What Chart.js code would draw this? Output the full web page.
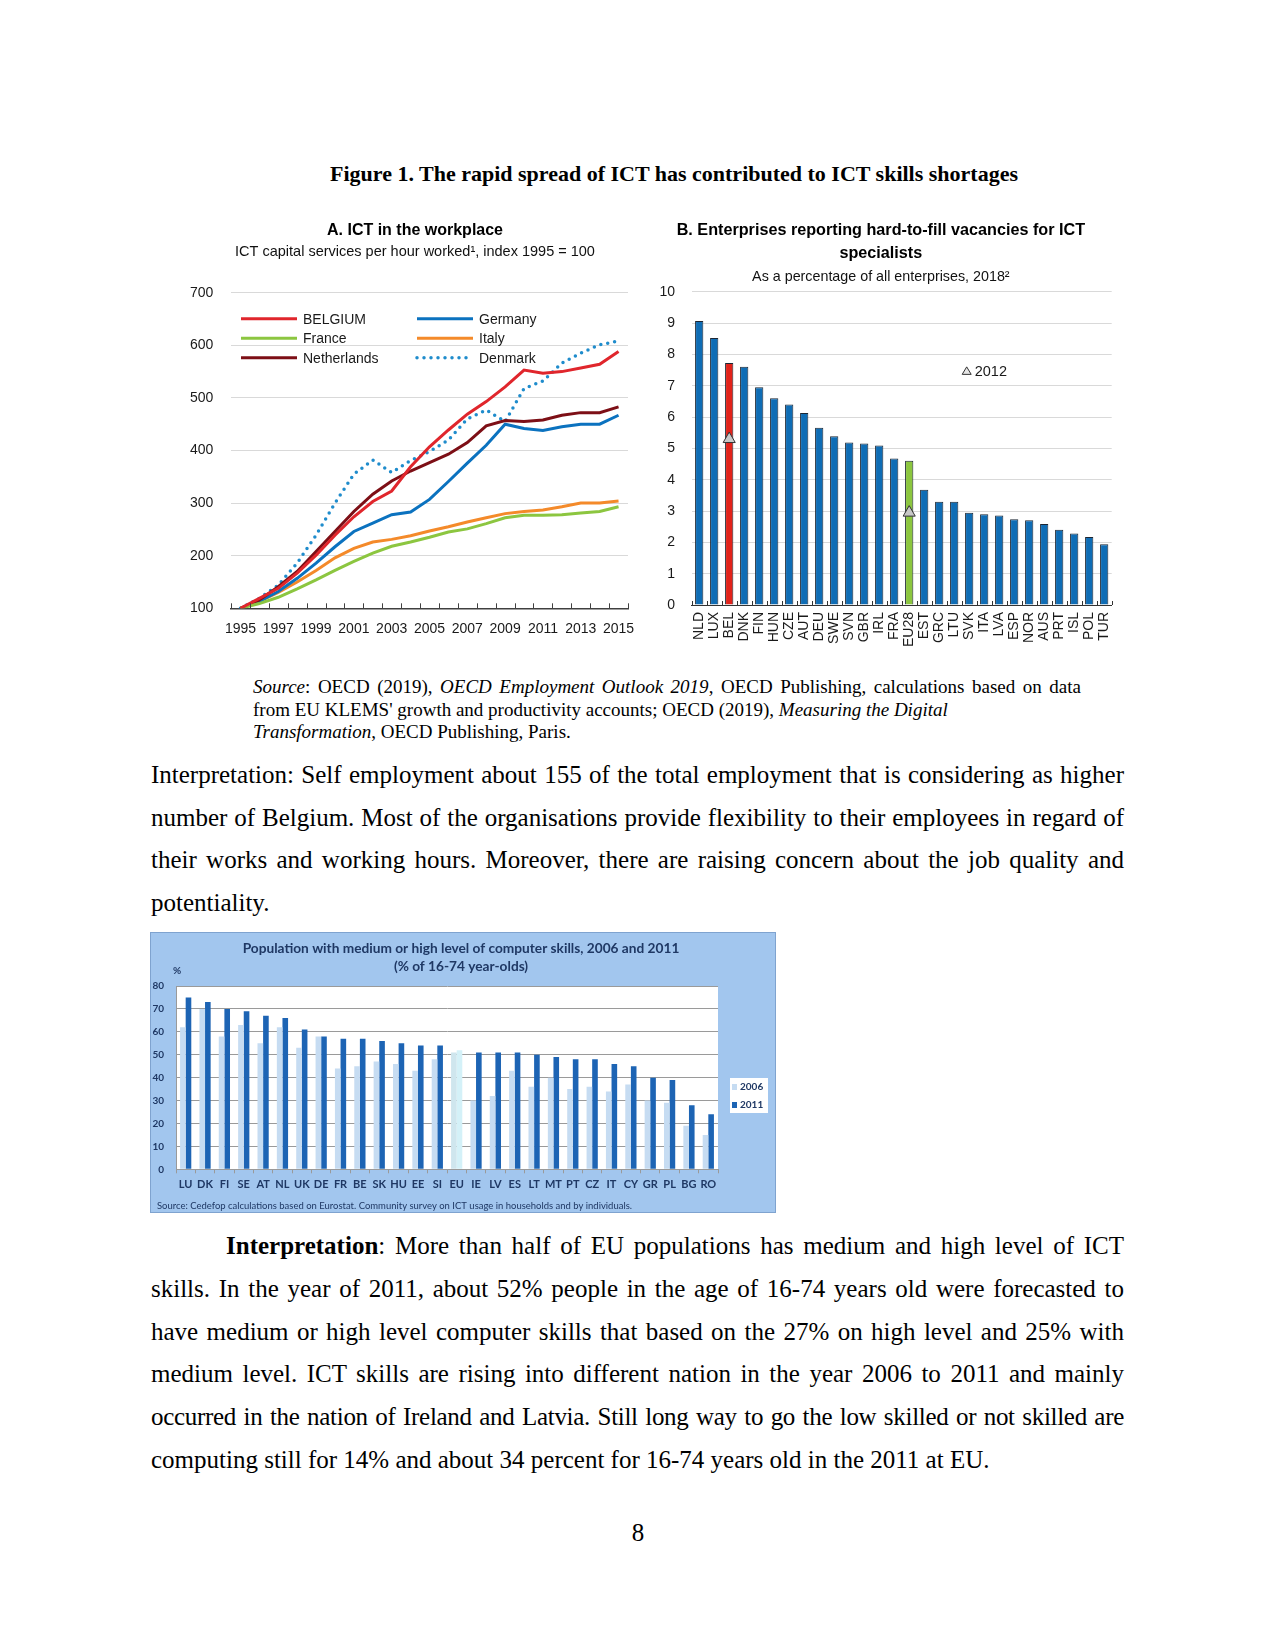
<!DOCTYPE html>
<html lang="en">
<head>
<meta charset="utf-8">
<title>The rapid spread of ICT has contributed to ICT skills shortages</title>
<script src="https://cdn.jsdelivr.net/npm/chart.js@4.4.1/dist/chart.umd.min.js"></script>
<style>
  body { margin: 0; background: #fff; }
  #page { position: relative; width: 1275px; height: 1651px; overflow: hidden;
          font-family: "Liberation Serif", "Times New Roman", serif; color: #000; }
  #page > * { position: absolute; }
  canvas { display: block; }
  .figtitle { left: 274px; width: 800px; top: 162px; font-size: 22px; font-weight: bold;
              line-height: 24px; text-align: center; }
  .source { left: 253px; top: 676px; font-size: 19px; line-height: 22.5px; }
  .source .j { width: 828px; text-align: justify; text-align-last: justify; }
  .para { left: 151px; width: 973px; font-size: 25px; line-height: 42.6px; }
  .para .j { text-align: justify; text-align-last: justify; }
  .para .ind { padding-left: 75px; }
  .para .tight { letter-spacing: -0.3px; }
  .pageno { left: 600px; width: 76px; top: 1512px; font-size: 25px; line-height: 42.6px; text-align: center; }
</style>
</head>
<body>
<div id="page">
  <div class="figtitle">Figure 1. The rapid spread of ICT has contributed to ICT skills shortages</div>

  <canvas id="chartA" width="470" height="430" style="left:180px; top:215px;"></canvas>
  <canvas id="chartB" width="480" height="440" style="left:650px; top:215px;"></canvas>

  <div class="source">
    <div class="j"><i>Source</i>: OECD (2019), <i>OECD Employment Outlook 2019</i>, OECD Publishing, calculations based on data</div>
    <div>from EU KLEMS' growth and productivity accounts; OECD (2019), <i>Measuring the Digital</i></div>
    <div><i>Transformation</i>, OECD Publishing, Paris.</div>
  </div>

  <div class="para" style="top:754px;">
    <div class="j">Interpretation: Self employment about 155 of the total employment that is considering as higher</div>
    <div class="j">number of Belgium. Most of the organisations provide flexibility to their employees in regard of</div>
    <div class="j">their works and working hours. Moreover, there are raising concern about the job quality and</div>
    <div>potentiality.</div>
  </div>

  <canvas id="chartC" width="626" height="281" style="left:150px; top:932px;"></canvas>

  <div class="para" style="top:1225px; line-height:42.75px;">
    <div class="j ind"><b>Interpretation</b>: More than half of EU populations has medium and high level of ICT</div>
    <div class="j">skills. In the year of 2011, about 52% people in the age of 16-74 years old were forecasted to</div>
    <div class="j">have medium or high level computer skills that based on the 27% on high level and 25% with</div>
    <div class="j">medium level. ICT skills are rising into different nation in the year 2006 to 2011 and mainly</div>
    <div class="j tight">occurred in the nation of Ireland and Latvia. Still long way to go the low skilled or not skilled are</div>
    <div>computing still for 14% and about 34 percent for 16-74 years old in the 2011 at EU.</div>
  </div>

  <div class="pageno">8</div>
</div>

<script>
// Panel A: ICT capital services per hour worked, index 1995 = 100
const years = ["1995", "1996", "1997", "1998", "1999", "2000", "2001", "2002", "2003", "2004",
  "2005", "2006", "2007", "2008", "2009", "2010", "2011", "2012", "2013", "2014", "2015"];
const belgium = [100, 119, 138, 167, 201, 239, 274, 303, 323, 369, 407, 439, 469, 493, 521, 553, 547, 550, 557, 564, 588];
const france = [100, 109, 121, 137, 154, 172, 189, 205, 218, 226, 235, 245, 251, 261, 272, 277, 277, 278, 281, 284, 293];
const netherlands = [100, 116, 141, 170, 208, 246, 284, 317, 342, 361, 377, 393, 415, 447, 457, 455, 458, 467, 472, 472, 483];
const germany = [100, 113, 132, 157, 186, 217, 246, 262, 278, 283, 307, 341, 376, 410, 450, 442, 438, 445, 450, 450, 467];
const italy = [100, 113, 130, 150, 172, 196, 214, 226, 231, 238, 247, 255, 264, 272, 280, 284, 287, 293, 300, 300, 304];
const denmark = [100, 119, 144, 186, 239, 300, 355, 382, 358, 381, 398, 420, 460, 477, 455, 518, 532, 566, 585, 601, 608];

// Panel B: hard-to-fill vacancies for ICT specialists, % of enterprises
const countriesB = ["NLD", "LUX", "BEL", "DNK", "FIN", "HUN", "CZE", "AUT", "DEU", "SWE", "SVN", "GBR", "IRL", "FRA",
  "EU28", "EST", "GRC", "LTU", "SVK", "ITA", "LVA", "ESP", "NOR", "AUS", "PRT", "ISL", "POL", "TUR"];
const vac2018 = [9.07, 8.53, 7.73, 7.61, 6.95, 6.6, 6.4, 6.13, 5.66, 5.39, 5.19, 5.16, 5.09, 4.68,
  4.61, 3.68, 3.3, 3.3, 2.95, 2.9, 2.86, 2.74, 2.71, 2.59, 2.4, 2.28, 2.17, 1.94];
const vac2012 = [null, null, 5.3, null, null, null, null, null, null, null, null, null, null, null,
  2.95, null, null, null, null, null, null, null, null, null, null, null, null, null];

// Panel C: population with medium or high computer skills
const countriesC = ["LU", "DK", "FI", "SE", "AT", "NL", "UK", "DE", "FR", "BE", "SK", "HU", "EE", "SI",
  "EU", "IE", "LV", "ES", "LT", "MT", "PT", "CZ", "IT", "CY", "GR", "PL", "BG", "RO"];
const skills2006 = [62, 70, 58, 63, 55, 62, 53, 58, 44, 45, 47, 46, 43, 48,
  51, 30, 32, 43, 36, 40, 35, 36, 34, 37, 30, 29, 19, 15];
const skills2011 = [75, 73, 70, 69, 67, 66, 61, 58, 57, 57, 56, 55, 54, 54,
  52, 51, 51, 51, 50, 49, 48, 48, 46, 45, 40, 39, 28, 24];

const SANS = "'Liberation Sans', Arial, sans-serif";
const LATO = "Lato, 'Liberation Sans', sans-serif";
const NAVY = "#1f3864";

// small tick marks pointing up from the category axis
const innerTicks = {
  id: "innerTicks",
  afterDatasetsDraw(chart, args, opts) {
    const x = chart.scales.x, ctx = chart.ctx;
    const n = x.ticks.length, step = (x.right - x.left) / n;
    ctx.save();
    ctx.strokeStyle = opts.color;
    ctx.lineWidth = 1;
    ctx.beginPath();
    for (let i = 0; i <= n; i++) {
      const px = Math.round(x.left + i * step) + 0.5;
      ctx.moveTo(px, x.top);
      ctx.lineTo(px, x.top - opts.len);
    }
    ctx.stroke();
    ctx.restore();
  }
};

// titles and two-column legend for panel A
const panelA = {
  id: "panelA",
  afterDraw(chart) {
    const { ctx, chartArea } = chart;
    ctx.save();
    ctx.textBaseline = "middle";
    ctx.textAlign = "center";
    ctx.fillStyle = "#000";
    ctx.font = "bold 16px " + SANS;
    ctx.fillText("A. ICT in the workplace", 235, 16);
    ctx.fillStyle = "#111";
    ctx.font = "14.5px " + SANS;
    ctx.fillText("ICT capital services per hour worked\u00b9, index 1995 = 100", 235, 37);

    ctx.textAlign = "left";
    ctx.font = "14px " + SANS;
    chart.data.datasets.forEach((ds, i) => {
      const x = chartArea.left + 10 + Math.floor(i / 3) * 176;
      const y = chartArea.top + 26 + (i % 3) * 19.5;
      ctx.strokeStyle = ds.borderColor;
      ctx.lineWidth = ds.borderWidth;
      ctx.lineCap = ds.borderCapStyle || "butt";
      ctx.setLineDash(ds.borderDash || []);
      ctx.beginPath();
      ctx.moveTo(x, y);
      ctx.lineTo(x + 56, y);
      ctx.stroke();
      ctx.setLineDash([]);
      ctx.fillStyle = "#1a1a1a";
      ctx.fillText(ds.label, x + 62, y + 1);
    });
    ctx.restore();
  }
};

new Chart(document.getElementById("chartA"), {
  type: "line",
  data: {
    labels: years,
    datasets: [
      { label: "BELGIUM", data: belgium, borderColor: "#e0262c", borderWidth: 3 },
      { label: "France", data: france, borderColor: "#8cc640", borderWidth: 3 },
      { label: "Netherlands", data: netherlands, borderColor: "#7d0f16", borderWidth: 3 },
      { label: "Germany", data: germany, borderColor: "#0b72bf", borderWidth: 3 },
      { label: "Italy", data: italy, borderColor: "#f48a2a", borderWidth: 3 },
      { label: "Denmark", data: denmark, borderColor: "#1f8ccc", borderWidth: 3.5,
        borderDash: [0, 7], borderCapStyle: "round" }
    ]
  },
  options: {
    responsive: false,
    animation: false,
    layout: { padding: { left: 0, right: 22, top: 77.7, bottom: 0 } },
    elements: { point: { radius: 0 }, line: { tension: 0 } },
    plugins: {
      legend: { display: false },
      tooltip: { enabled: false },
      title: { display: false },
      innerTicks: { color: "#404040", len: 5 }
    },
    scales: {
      x: {
        offset: true,
        grid: { display: false, drawTicks: false },
        border: { color: "#404040", width: 1.5 },
        ticks: {
          autoSkip: false, maxRotation: 0, padding: 12, color: "#1a1a1a",
          font: { family: SANS, size: 14 },
          callback: (v, i) => (i % 2 === 0 ? years[i] : "")
        },
        afterFit(s) { s.height = 430 - 393.3; }
      },
      y: {
        min: 100, max: 700,
        ticks: { stepSize: 100, padding: 17.7, color: "#1a1a1a", font: { family: SANS, size: 14 } },
        grid: { color: "#d9d9d9", drawTicks: false },
        border: { display: false },
        afterFit(s) { s.width = 51; }
      }
    }
  },
  plugins: [innerTicks, panelA]
});

// "triangle 2012" key inside panel B
const triangleKey = {
  id: "triangleKey",
  afterDraw(chart) {
    const { ctx, chartArea } = chart;
    const x = chartArea.left + 275, y = chartArea.top + 79;
    ctx.save();
    ctx.beginPath();
    ctx.moveTo(x, y - 4);
    ctx.lineTo(x + 4.5, y + 3.5);
    ctx.lineTo(x - 4.5, y + 3.5);
    ctx.closePath();
    ctx.fillStyle = "#e6e6e6";
    ctx.fill();
    ctx.strokeStyle = "#333";
    ctx.lineWidth = 1;
    ctx.stroke();
    ctx.fillStyle = "#1a1a1a";
    ctx.font = "14.5px " + SANS;
    ctx.textBaseline = "middle";
    ctx.fillText("2012", x + 8, y + 1);
    ctx.restore();
  }
};

new Chart(document.getElementById("chartB"), {
  type: "bar",
  data: {
    labels: countriesB,
    datasets: [
      {
        type: "line", label: "2012", data: vac2012, showLine: false, order: 0,
        pointStyle: "triangle", pointRadius: 7, pointBackgroundColor: "#c8c8c8",
        pointBorderColor: "#333", pointBorderWidth: 1
      },
      {
        label: "2018", data: vac2018, order: 1,
        backgroundColor: countriesB.map(c => (c === "BEL" ? "#e2231a" : c === "EU28" ? "#8cc63f" : "#0f6db5")),
        borderColor: "#1c2633", borderWidth: 1,
        barPercentage: 0.55, categoryPercentage: 1
      }
    ]
  },
  options: {
    responsive: false,
    animation: false,
    layout: { padding: { left: 0, right: 18.3, top: 0, bottom: 0 } },
    plugins: {
      legend: { display: false },
      tooltip: { enabled: false },
      title: {
        display: true, text: ["B. Enterprises reporting hard-to-fill vacancies for ICT", "specialists"],
        color: "#000", font: { family: SANS, size: 16.2, weight: "bold", lineHeight: 1.42 },
        padding: { top: 4.5, bottom: 0 }
      },
      subtitle: {
        display: true, text: "As a percentage of all enterprises, 2018\u00b2", color: "#111",
        font: { family: SANS, size: 14.3 }, padding: { top: 2.9, bottom: 6.3 }
      },
      innerTicks: { color: "#333", len: 4 }
    },
    scales: {
      x: {
        grid: { display: false, drawTicks: false },
        border: { color: "#333", width: 1 },
        ticks: {
          autoSkip: false, minRotation: 90, maxRotation: 90, padding: 7, color: "#1a1a1a",
          font: { family: SANS, size: 14 }
        },
        afterFit(s) { s.height = 50; }
      },
      y: {
        min: 0, max: 10,
        ticks: { stepSize: 1, padding: 16.7, color: "#1a1a1a", font: { family: SANS, size: 14 } },
        grid: { color: "#d9d9d9", drawTicks: false },
        border: { display: false },
        afterFit(s) { s.width = 41.7; }
      }
    }
  },
  plugins: [innerTicks, triangleKey]
});

// Panel C: light blue frame, white plot area, titles, legend box and source line
const LIGHT06 = "#c6dcf2";
const DARK11 = "#1d64b4";
const panelC = {
  id: "panelC",
  beforeDraw(chart) {
    const { ctx, chartArea: a, width, height } = chart;
    ctx.save();
    ctx.fillStyle = "#a2c6ee";
    ctx.fillRect(0, 0, width, height);
    ctx.fillStyle = "#fff";
    ctx.fillRect(a.left, a.top, a.right - a.left, a.bottom - a.top);
    ctx.strokeStyle = "#7fa3cf";
    ctx.lineWidth = 1;
    ctx.strokeRect(0.5, 0.5, width - 1, height - 1);

    ctx.fillStyle = NAVY;
    ctx.font = "bold 13.7px " + LATO;
    ctx.textAlign = "center";
    ctx.textBaseline = "middle";
    ctx.fillText("Population with medium or high level of computer skills, 2006 and 2011", 311, 17);
    ctx.fillText("(% of 16-74 year-olds)", 311, 35);
    ctx.restore();
  },
  afterDraw(chart) {
    const { ctx, chartArea: a } = chart;
    ctx.save();
    ctx.fillStyle = NAVY;
    ctx.font = "bold 10px " + LATO;
    ctx.textBaseline = "middle";
    ctx.fillText("%", a.left - 3, a.top - 15);

    // legend box
    const bx = a.right + 12, by = a.top + 92;
    ctx.fillStyle = "#fff";
    ctx.fillRect(bx, by, 38, 35);
    [[LIGHT06, "2006"], [DARK11, "2011"]].forEach(([col, txt], i) => {
      const y = by + 9 + i * 18;
      ctx.fillStyle = col;
      ctx.fillRect(bx + 2, y - 3, 5, 6);
      ctx.fillStyle = NAVY;
      ctx.font = "bold 10px " + LATO;
      ctx.fillText(txt, bx + 10, y);
    });

    ctx.font = "9.6px " + LATO;
    ctx.fillStyle = NAVY;
    ctx.fillText("Source: Cedefop calculations based on Eurostat. Community survey on ICT usage in households and by individuals.",
      7, chart.height - 7, 475);
    ctx.restore();
  }
};

new Chart(document.getElementById("chartC"), {
  type: "bar",
  data: {
    labels: countriesC,
    datasets: [
      {
        label: "2006", data: skills2006,
        backgroundColor: countriesC.map(c => (c === "EU" ? "#cfe6ee" : LIGHT06)),
        barPercentage: 1, categoryPercentage: 0.58
      },
      {
        label: "2011", data: skills2011,
        backgroundColor: countriesC.map(c => (c === "EU" ? "#d4f1f8" : DARK11)),
        barPercentage: 1, categoryPercentage: 0.58
      }
    ]
  },
  options: {
    responsive: false,
    animation: false,
    layout: { padding: { left: 0, right: 58, top: 54, bottom: 0 } },
    plugins: {
      legend: { display: false },
      tooltip: { enabled: false },
      title: { display: false }
    },
    scales: {
      x: {
        grid: { display: true, drawOnChartArea: false, tickLength: 4, color: "#9a9a9a" },
        border: { color: "#9a9a9a", width: 1 },
        ticks: { autoSkip: false, maxRotation: 0, padding: 5, color: NAVY, font: { family: LATO, size: 11, weight: "bold" } },
        afterFit(s) { s.height = 281 - 237.3; }
      },
      y: {
        min: 0, max: 80,
        ticks: { stepSize: 10, padding: 12, color: NAVY, font: { family: LATO, size: 10, weight: "bold" } },
        grid: { color: "#9a9a9a", drawTicks: false },
        border: { color: "#9a9a9a", width: 1 },
        afterFit(s) { s.width = 26; }
      }
    }
  },
  plugins: [panelC]
});
</script>
</body>
</html>
